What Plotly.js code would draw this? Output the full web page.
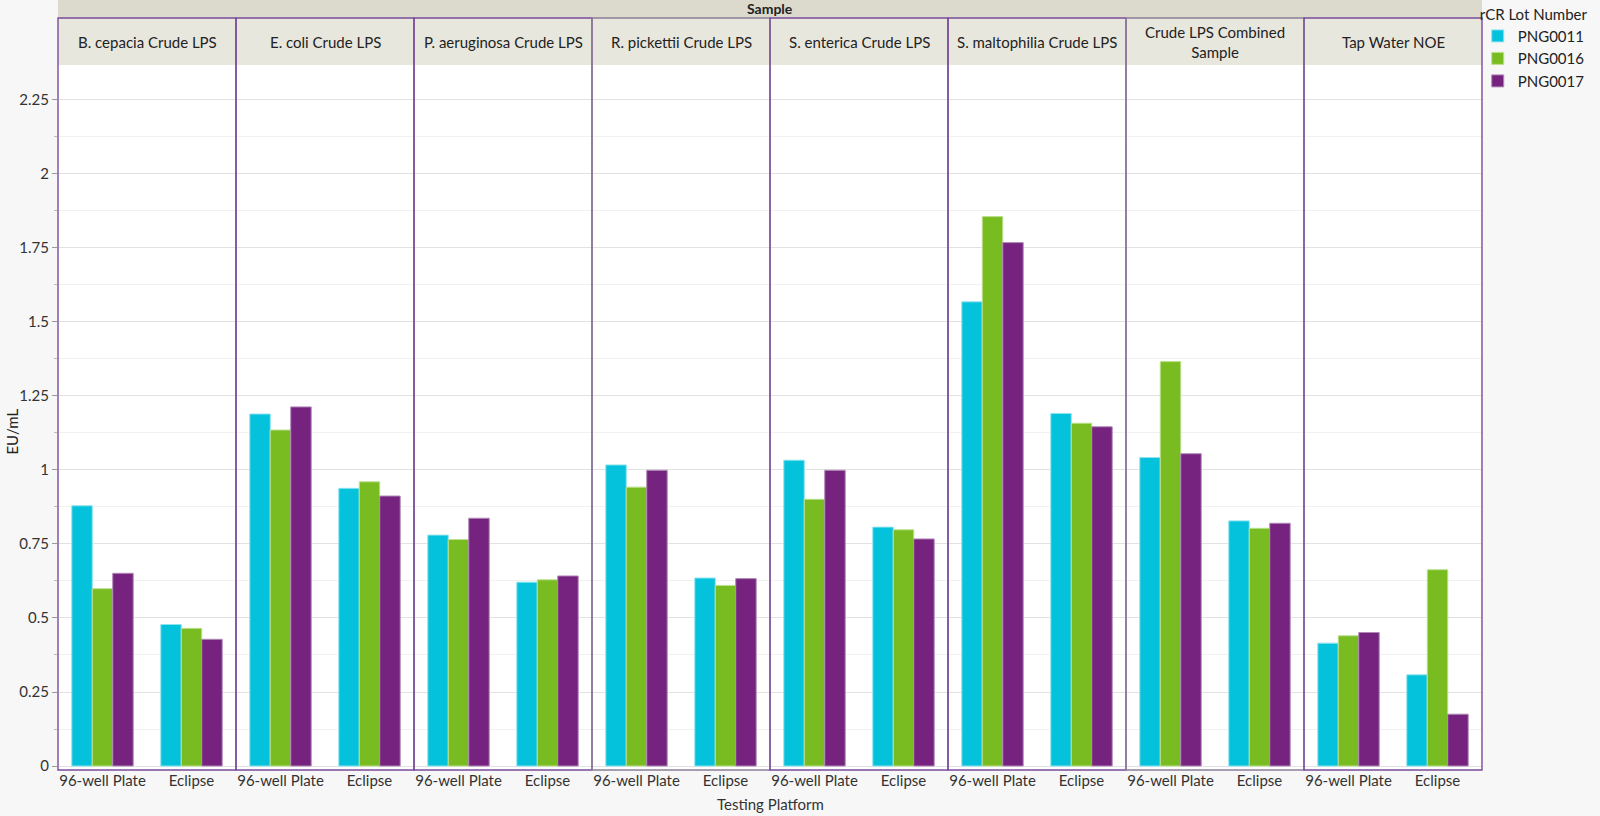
<!DOCTYPE html>
<html>
<head>
<meta charset="utf-8">
<script src="https://cdn.plot.ly/plotly-3.0.1.min.js"></script>
<style>
  html, body { margin: 0; padding: 0; background: #f7f7f7; }
  #chart { width: 1600px; height: 816px; }
</style>
</head>
<body>
<div id="chart"></div>
<script>
// Paneles (Sample) y categorías del eje X
var samples = ['B. cepacia Crude LPS', 'E. coli Crude LPS', 'P. aeruginosa Crude LPS', 'R. pickettii Crude LPS',
               'S. enterica Crude LPS', 'S. maltophilia Crude LPS', 'Crude LPS Combined<br>Sample', 'Tap Water NOE'];
var platforms = ['96-well Plate', 'Eclipse'];
var lots = ['PNG0011', 'PNG0016', 'PNG0017'];

// Valores EU/mL (uno por panel)
var png0011Plate   = [0.879, 1.189, 0.780, 1.017, 1.033, 1.568, 1.042, 0.415];
var png0011Eclipse = [0.478, 0.938, 0.621, 0.635, 0.807, 1.191, 0.828, 0.308];
var png0016Plate   = [0.599, 1.135, 0.765, 0.942, 0.901, 1.856, 1.366, 0.440];
var png0016Eclipse = [0.465, 0.960, 0.629, 0.610, 0.798, 1.158, 0.803, 0.663];
var png0017Plate   = [0.651, 1.213, 0.837, 0.999, 0.999, 1.768, 1.055, 0.451];
var png0017Eclipse = [0.428, 0.912, 0.642, 0.633, 0.767, 1.146, 0.820, 0.175];

var yTicks = [0, 0.25, 0.5, 0.75, 1, 1.25, 1.5, 1.75, 2, 2.25];
var yTickText = ['0', '0.25', '0.5', '0.75', '1', '1.25', '1.5', '1.75', '2', '2.25'];

var plateVals = [png0011Plate, png0016Plate, png0017Plate];
var eclipseVals = [png0011Eclipse, png0016Eclipse, png0017Eclipse];
var colors = ['#04c1dc', '#78bc21', '#75237f'];
var edgeColors = ['#8fe3ef', '#bde08f', '#b08ab8'];

var FONT = 'Lato, "Open Sans", sans-serif';
var nPanels = samples.length;

var data = [];
var layout = {
    width: 1600,
    height: 816,
    paper_bgcolor: '#f7f7f7',
    plot_bgcolor: '#ffffff',
    margin: { l: 58, r: 118, t: 65, b: 46, autoexpand: false },
    barmode: 'group',
    bargap: 0.31,
    bargroupgap: 0,
    showlegend: true,
    font: { family: FONT, size: 15, color: '#333333' },
    legend: {
        x: 0.997, xanchor: 'left',
        y: 1.092, yanchor: 'top',
        bgcolor: 'rgba(0,0,0,0)',
        font: { family: FONT, size: 15, color: '#222222' },
        title: { text: 'rCR Lot Number', font: { family: FONT, size: 15, color: '#222222' } },
        tracegroupgap: 0,
        itemwidth: 30
    },
    yaxis: {
        range: [-0.0135, 2.368],
        tickvals: yTicks,
        ticktext: yTickText,
        showgrid: true,
        gridcolor: '#e2e2e2',
        gridwidth: 1,
        zeroline: false,
        showline: false,
        ticks: 'outside',
        ticklen: 5,
        tickcolor: '#9a9a9a',
        tickfont: { family: FONT, size: 15, color: '#333333' },
        minor: { dtick: 0.125, tick0: 0, showgrid: true, gridcolor: '#f1f1f1', ticks: 'outside', ticklen: 3, tickcolor: '#bbbbbb' },
        fixedrange: true
    },
    shapes: [],
    annotations: []
};

for (var p = 0; p < nPanels; p++) {
    var xName = p === 0 ? 'x' : 'x' + (p + 1);
    var axKey = p === 0 ? 'xaxis' : 'xaxis' + (p + 1);

    // Una barra por lote en cada panel
    for (var s = 0; s < lots.length; s++) {
        data.push({
            type: 'bar',
            x: platforms,
            y: [plateVals[s][p], eclipseVals[s][p]],
            name: lots[s],
            legendgroup: lots[s],
            showlegend: p === 0,
            xaxis: xName,
            yaxis: 'y',
            marker: { color: colors[s], line: { color: edgeColors[s], width: 1 } },
            hoverinfo: 'x+y+name'
        });
    }

    layout[axKey] = {
        domain: [p / nPanels, (p + 1) / nPanels],
        anchor: 'y',
        type: 'category',
        showgrid: false,
        zeroline: false,
        showline: false,
        ticks: '',
        tickfont: { family: FONT, size: 15, color: '#333333' },
        fixedrange: true
    };

    // Cabecera del panel (strip)
    layout.shapes.push({
        type: 'rect', xref: xName + ' domain', yref: 'paper',
        x0: 0, x1: 1, y0: 1, y1: 1.0667,
        fillcolor: '#e8e7de', line: { width: 0 }, layer: 'below'
    });
    // Marco del panel
    layout.shapes.push({
        type: 'rect', xref: xName + ' domain', yref: 'paper',
        x0: 0, x1: 1, y0: 0, y1: 1.0667,
        fillcolor: 'rgba(0,0,0,0)',
        line: { color: (p === 3 || p === 6) ? '#8a7f98' : '#7a4c9c', width: 1.4 },
        layer: 'above'
    });
    layout.annotations.push({
        text: samples[p], xref: xName + ' domain', yref: 'paper',
        x: 0.5, y: 1.0333, xanchor: 'center', yanchor: 'middle', showarrow: false,
        font: { family: FONT, size: 15, color: '#222222' }
    });
}

// Banda superior "Sample"
layout.shapes.push({
    type: 'rect', xref: 'paper', yref: 'paper',
    x0: 0, x1: 1, y0: 1.0667, y1: 1.0922,
    fillcolor: '#dcdacc', line: { width: 0 }, layer: 'below'
});
layout.annotations.push({
    text: '<b>Sample</b>', xref: 'paper', yref: 'paper',
    x: 0.5, y: 1.0795, xanchor: 'center', yanchor: 'middle', showarrow: false,
    font: { family: FONT, size: 14, color: '#222222' }
});

// Títulos de ejes
layout.annotations.push({
    text: 'Testing Platform', xref: 'paper', yref: 'paper',
    x: 0.5, y: -0.0482, xanchor: 'center', yanchor: 'middle', showarrow: false,
    font: { family: FONT, size: 15, color: '#333333' }
});
layout.annotations.push({
    text: 'EU/mL', xref: 'paper', yref: 'paper', textangle: -90,
    x: -0.0323, y: 0.48, xanchor: 'center', yanchor: 'middle', showarrow: false,
    font: { family: FONT, size: 15, color: '#222222' }
});

var config = { displayModeBar: false, staticPlot: false };

Plotly.newPlot('chart', data, layout, config);
</script>
</body>
</html>
